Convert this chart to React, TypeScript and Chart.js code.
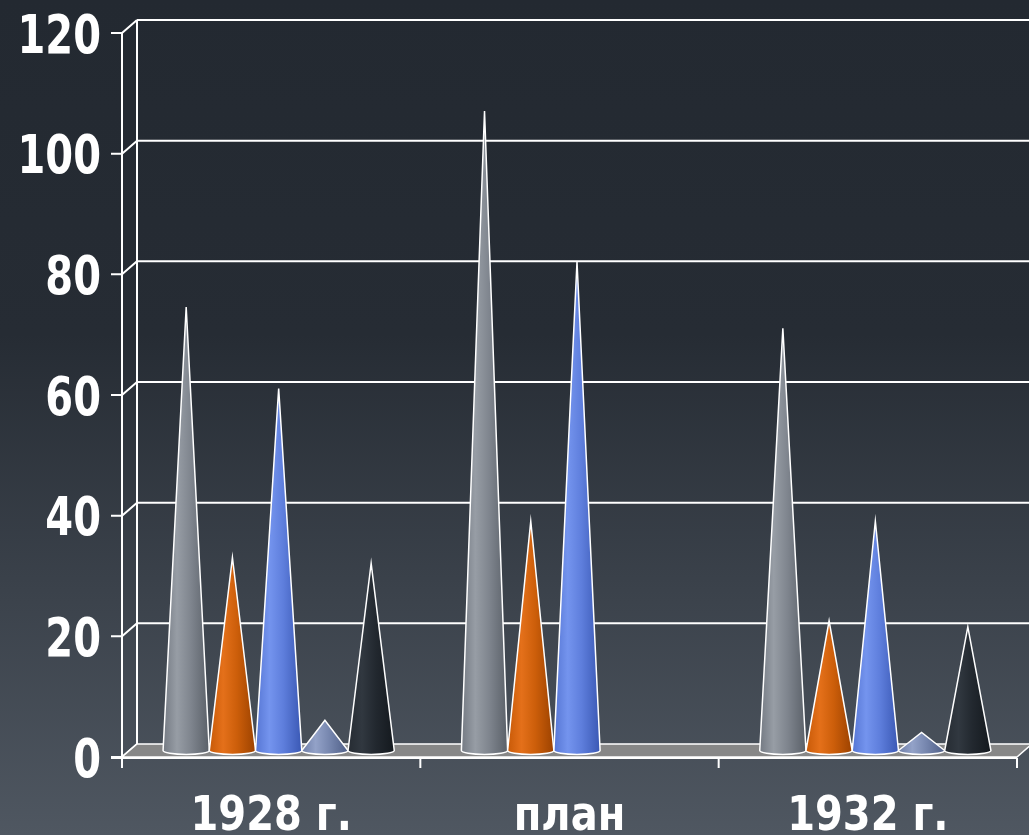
import React, { useEffect, useRef } from 'react';
import { Chart, registerables } from 'chart.js';

Chart.register(...registerables);

const categories = ['1928 г.', 'план', '1932 г.'];
const seriesGray = [73.5, 106, 70];
const seriesOrange = [32, 38, 21.5];
const seriesBlue = [60, 81, 38];
const seriesSlate = [5, 0, 3];
const seriesDark = [31, 0, 20.5];
const yTicks = [0, 20, 40, 60, 80, 100, 120];

const coneColors: string[][] = [
  ['#747a83', '#979da5', '#7f858e', '#5a6068'],
  ['#c85a08', '#e4701a', '#cc5e0a', '#9c4200'],
  ['#5676d4', '#7494ee', '#5e7edc', '#3a58b4'],
  ['#6e7ea8', '#93a2c8', '#7686ae', '#4e5e86'],
  ['#262c33', '#313840', '#22282f', '#14191e'],
];

const DX = 15;
const DY = -13;

const scenePlugin = {
  id: 'scene3d',
  beforeDraw(chart: any) {
    const { ctx, width, height } = chart;
    const g = ctx.createLinearGradient(0, 0, 0, height);
    g.addColorStop(0, '#232931');
    g.addColorStop(0.4, '#262c34');
    g.addColorStop(1, '#4f5761');
    ctx.save();
    ctx.fillStyle = g;
    ctx.fillRect(0, 0, width, height);
    ctx.restore();
  },
  beforeDatasetsDraw(chart: any) {
    const { ctx, chartArea } = chart;
    const y = chart.scales.y;
    const x = chart.scales.x;
    const L = chartArea.left;
    const R = chartArea.right;
    const y0 = y.getPixelForValue(0);
    const yTop = y.getPixelForValue(120);
    ctx.save();
    ctx.strokeStyle = '#ffffff';
    ctx.lineWidth = 2;
    // back wall grid lines + side wall diagonals + tick marks
    yTicks.forEach((v) => {
      const py = y.getPixelForValue(v);
      if (v !== 0) {
        ctx.beginPath();
        ctx.moveTo(L + DX, py + DY);
        ctx.lineTo(chart.width + 5, py + DY);
        ctx.stroke();
      }
      ctx.beginPath();
      ctx.moveTo(L - 11, py);
      ctx.lineTo(L, py);
      ctx.lineTo(L + DX, py + DY);
      ctx.stroke();
    });
    // back wall vertical line
    ctx.beginPath();
    ctx.moveTo(L + DX, yTop + DY);
    ctx.lineTo(L + DX, y0 + DY);
    ctx.stroke();
    // floor
    ctx.beginPath();
    ctx.moveTo(L, y0);
    ctx.lineTo(R, y0);
    ctx.lineTo(R + DX, y0 + DY);
    ctx.lineTo(L + DX, y0 + DY);
    ctx.closePath();
    ctx.fillStyle = '#878787';
    ctx.fill();
    ctx.lineWidth = 1.5;
    ctx.stroke();
    ctx.lineWidth = 2;
    // front y axis
    ctx.beginPath();
    ctx.moveTo(L, yTop);
    ctx.lineTo(L, y0 + 11);
    ctx.stroke();
    // x axis
    ctx.beginPath();
    ctx.moveTo(L - 11, y0 + 1);
    ctx.lineTo(R, y0 + 1);
    ctx.stroke();
    const n = categories.length;
    for (let i = 1; i <= n; i++) {
      const px = L + ((R - L) * i) / n;
      ctx.beginPath();
      ctx.moveTo(px, y0 + 1);
      ctx.lineTo(px, y0 + 11);
      ctx.stroke();
    }
    ctx.restore();
    void x;
  },
  afterDatasetsDraw(chart: any) {
    const { ctx } = chart;
    const y = chart.scales.y;
    const y0 = y.getPixelForValue(0);
    const halfX = DX / 2;
    const halfY = DY / 2;
    ctx.save();
    for (let j = 0; j < categories.length; j++) {
      chart.data.datasets.forEach((ds: any, i: number) => {
        const v = ds.data[j];
        if (!v) return;
        const el = chart.getDatasetMeta(i).data[j];
        const w = el.width;
        const cx = el.x + halfX;
        const by = y0 + halfY;
        const ty = y.getPixelForValue(v) + halfY;
        const cols = coneColors[i];
        const g = ctx.createLinearGradient(cx - w / 2, 0, cx + w / 2, 0);
        g.addColorStop(0, cols[0]);
        g.addColorStop(0.3, cols[1]);
        g.addColorStop(0.6, cols[2]);
        g.addColorStop(1, cols[3]);
        ctx.beginPath();
        ctx.moveTo(cx - w / 2, by);
        ctx.lineTo(cx, ty);
        ctx.lineTo(cx + w / 2, by);
        ctx.ellipse(cx, by, w / 2, 4, 0, 0, Math.PI);
        ctx.closePath();
        ctx.fillStyle = g;
        ctx.fill();
        ctx.strokeStyle = '#ffffff';
        ctx.lineWidth = 1.5;
        ctx.lineJoin = 'miter';
        ctx.stroke();
      });
    }
    ctx.restore();
  },
  afterDraw(chart: any) {
    const { ctx, chartArea } = chart;
    const y = chart.scales.y;
    const x = chart.scales.x;
    ctx.save();
    ctx.fillStyle = '#ffffff';
    ctx.font = 'bold 40px "DejaVu Sans"';
    ctx.textAlign = 'right';
    ctx.textBaseline = 'alphabetic';
    yTicks.forEach((v) => {
      const py = y.getPixelForValue(v);
      ctx.save();
      ctx.translate(chartArea.left - 21, py + 19.5);
      ctx.scale(1, 1.32);
      ctx.fillText(String(v), 0, 0);
      ctx.restore();
    });
    ctx.textAlign = 'center';
    categories.forEach((c, i) => {
      const px = x.getPixelForValue(i);
      ctx.save();
      ctx.translate(px, 830);
      ctx.scale(1, 1.2);
      ctx.fillText(c, 0, 0);
      ctx.restore();
    });
    ctx.restore();
  },
};

export default function App() {
  const ref = useRef<HTMLCanvasElement | null>(null);
  useEffect(() => {
    if (!ref.current) return;
    const mk = (label: string, data: number[]) => ({
      label,
      data,
      backgroundColor: 'rgba(0,0,0,0)',
      borderWidth: 0,
    });
    const chart = new Chart(ref.current, {
      type: 'bar',
      data: {
        labels: categories,
        datasets: [
          mk('Ряд 1', seriesGray),
          mk('Ряд 2', seriesOrange),
          mk('Ряд 3', seriesBlue),
          mk('Ряд 4', seriesSlate),
          mk('Ряд 5', seriesDark),
        ],
      },
      options: {
        responsive: false,
        animation: false,
        devicePixelRatio: 1,
        layout: { padding: { left: 122, right: 12, top: 33, bottom: 78 } },
        datasets: { bar: { categoryPercentage: 0.775, barPercentage: 1 } },
        scales: {
          x: { display: false },
          y: { display: false, min: 0, max: 120 },
        },
        plugins: { legend: { display: false }, tooltip: { enabled: false } },
      },
      plugins: [scenePlugin],
    });
    return () => chart.destroy();
  }, []);
  return (
    <div style={{ position: 'fixed', left: 0, top: 0, width: 1029, height: 835, overflow: 'hidden' }}>
      <canvas ref={ref} width={1029} height={835} style={{ display: 'block' }} />
    </div>
  );
}
